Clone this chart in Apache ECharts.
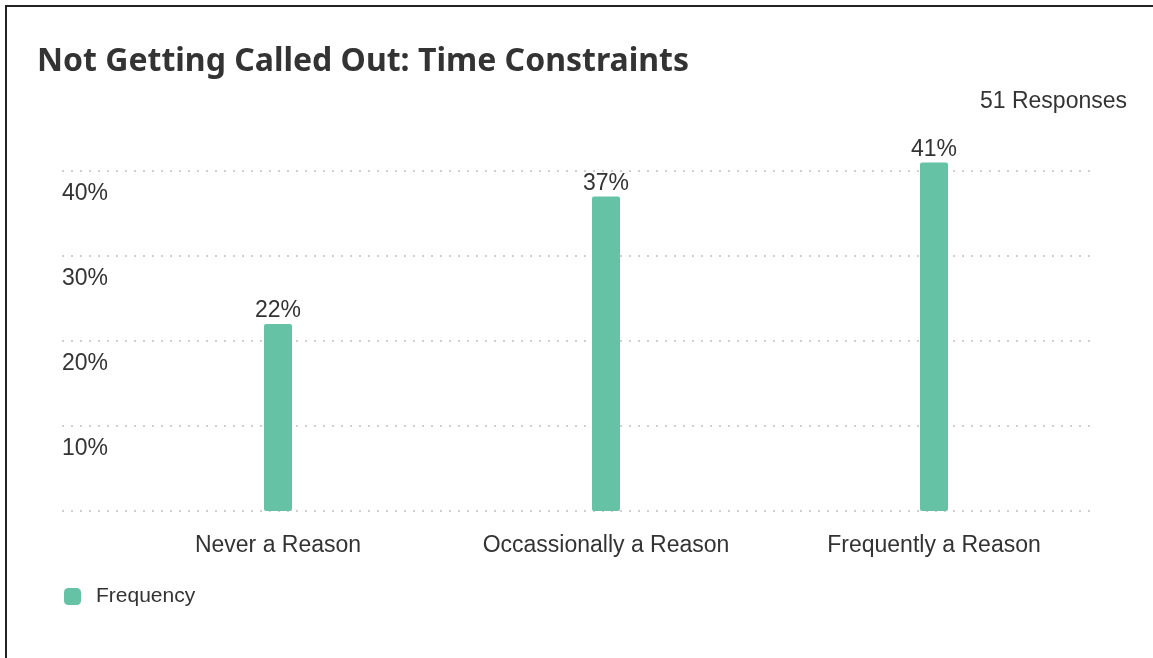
<!DOCTYPE html>
<html>
<head>
<meta charset="utf-8">
<script src="https://cdn.jsdelivr.net/npm/echarts@6/dist/echarts.min.js"></script>
<style>
  html, body { margin: 0; padding: 0; background: #fff; }
  #chart { width: 1153px; height: 658px; }
</style>
</head>
<body>
<div id="chart"></div>
<script>
// Survey answers and their share of responses (%)
const categories = ['Never a Reason', 'Occassionally a Reason', 'Frequently a Reason'];
const frequency = [22, 37, 41];
const seriesName = 'Frequency';
const titleText = 'Not Getting Called Out: Time Constraints';
const responsesText = '51 Responses';
const yTicks = { min: 0, max: 40, interval: 10 };

const textColor = '#333333';
const barColor = '#66c2a5';
const sans = '"Liberation Sans", Arial, sans-serif';

const chart = echarts.init(document.getElementById('chart'), null, { renderer: 'canvas' });

chart.setOption({
  backgroundColor: '#ffffff',
  animation: false,
  title: [
    {
      text: titleText,
      left: 37, top: 46, padding: 0,
      textStyle: { fontFamily: '"Noto Sans", sans-serif', fontWeight: 'bold', fontSize: 32, color: textColor }
    },
    {
      text: responsesText,
      right: 26, top: 90, padding: 0,
      textStyle: { fontFamily: sans, fontWeight: 'normal', fontSize: 23, color: textColor }
    }
  ],
  legend: {
    data: [seriesName],
    left: 64, top: 586, padding: 0,
    icon: 'roundRect',
    itemWidth: 17, itemHeight: 17,
    textStyle: { fontFamily: sans, fontSize: 21, color: textColor, padding: [2, 0, 0, 10] }
  },
  grid: [
    // wide grid carrying the dotted value gridlines and labels
    { left: 62, right: 58, top: 171, bottom: 147 },
    // category grid carrying the bars
    { left: 114, right: 55, top: 171, bottom: 147 }
  ],
  xAxis: [
    { type: 'category', gridIndex: 0, data: [''], show: false },
    {
      type: 'category', gridIndex: 1, data: categories,
      axisLine: { show: false }, axisTick: { show: false },
      axisLabel: { margin: 23.5, fontFamily: sans, fontSize: 23, color: textColor, interval: 0 }
    }
  ],
  yAxis: [
    {
      type: 'value', gridIndex: 0,
      min: yTicks.min, max: yTicks.max, interval: yTicks.interval,
      axisLine: { show: false }, axisTick: { show: false },
      splitLine: { show: true, lineStyle: { color: '#cfcfcf', width: 2, type: [2, 7] } },
      axisLabel: {
        inside: true, margin: 0, align: 'left', verticalAlign: 'top', padding: [11, 0, 0, 0],
        fontFamily: sans, fontSize: 23, color: textColor,
        formatter: v => (v === 0 ? '' : v + '%')
      }
    },
    {
      type: 'value', gridIndex: 1,
      min: yTicks.min, max: yTicks.max, interval: yTicks.interval,
      show: false, splitLine: { show: false }
    }
  ],
  graphic: [
    // frame lines along the top and left edge
    { type: 'line', shape: { x1: 5, y1: 6, x2: 1153, y2: 6 }, style: { stroke: '#222', lineWidth: 2 } },
    { type: 'line', shape: { x1: 6, y1: 5, x2: 6, y2: 658 }, style: { stroke: '#222', lineWidth: 2 } }
  ],
  series: [
    {
      name: seriesName,
      type: 'bar',
      xAxisIndex: 1, yAxisIndex: 1,
      data: frequency,
      barWidth: 28,
      clip: false,
      itemStyle: { color: barColor, borderRadius: 2 },
      label: {
        show: true, position: 'top', distance: 1.5,
        fontFamily: sans, fontSize: 23, color: textColor,
        formatter: p => p.value + '%'
      }
    }
  ]
});
</script>
</body>
</html>
